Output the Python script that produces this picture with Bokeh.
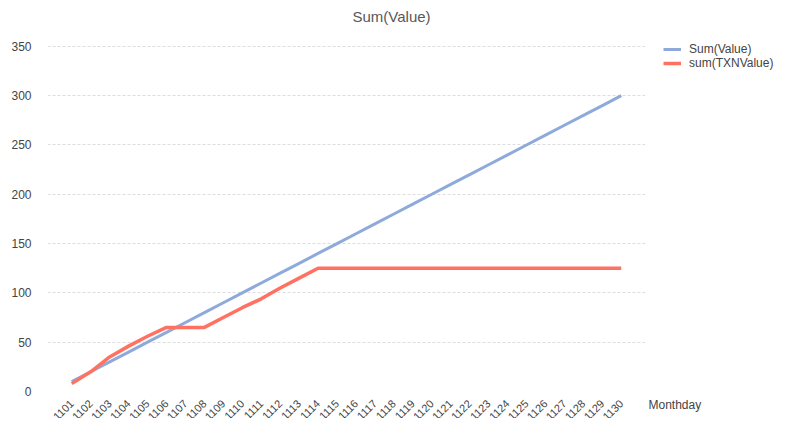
import math
from bokeh.plotting import figure
from bokeh.models import FactorRange, Range1d, Legend, LegendItem, Title, ColumnDataSource
from bokeh.embed import file_html
from bokeh.resources import INLINE

days = [str(d) for d in range(1101, 1131)]
sum_value = [10, 20, 30, 40, 50, 60, 70, 80, 90, 100,
             110, 120, 130, 140, 150, 160, 170, 180, 190, 200,
             210, 220, 230, 240, 250, 260, 270, 280, 290, 300]
sum_txn = [8, 20, 35, 46, 56, 65, 65, 65, 75, 85,
           94, 105, 115, 125, 125, 125, 125, 125, 125, 125,
           125, 125, 125, 125, 125, 125, 125, 125, 125, 125]
y_ticks = [0, 50, 100, 150, 200, 250, 300, 350]

FONT = "Liberation Sans"
src = ColumnDataSource(dict(day=days, v=sum_value, t=sum_txn))

p = figure(x_range=FactorRange(*days, range_padding=0.78, range_padding_units="absolute"),
           y_range=Range1d(0, 358),
           frame_width=598, frame_height=353,
           output_backend="svg", toolbar_location=None,
           min_border_left=0, min_border_right=0, min_border_top=0, min_border_bottom=0,
           title="Sum(Value)")
p.margin = (-4, 0, 0, 8)
p.outline_line_color = None
p.background_fill_color = "white"
p.border_fill_color = "white"

p.title.align = "left"
p.title.offset = 305
p.title.text_font = FONT
p.title.text_font_size = "15px"
p.title.text_font_style = "normal"
p.title.text_color = "#595959"
p.title.standoff = 23
p.title.vertical_align = "top"

c_blue = "#8eaadb"
c_red = "#ff7262"
r1 = p.line("day", "v", source=src, line_color=c_blue, line_width=3)
r2 = p.line("day", "t", source=src, line_color=c_red, line_width=3.5)

p.xgrid.grid_line_color = None
p.ygrid.grid_line_color = "#dddddd"
p.ygrid.grid_line_dash = "3 2"
p.ygrid.grid_line_width = 1

p.yaxis.ticker = y_ticks
p.yaxis.axis_line_color = None
p.yaxis.major_tick_line_color = None
p.yaxis.minor_tick_line_color = None
p.yaxis.major_label_text_font = FONT
p.yaxis.major_label_text_font_size = "12px"
p.yaxis.major_label_text_color = "#444444"
p.yaxis.major_label_standoff = 10

p.xaxis.axis_line_color = None
p.xaxis.major_tick_line_color = None
p.xaxis.minor_tick_line_color = None
p.xaxis.major_label_orientation = math.pi / 4
p.xaxis.major_label_text_font = FONT
p.xaxis.major_label_text_font_size = "11px"
p.xaxis.major_label_text_color = "#444444"
p.xaxis.major_label_standoff = 4
# blank axis label with negative standoff: pulls the axis-name row up beside the tick labels
p.xaxis.axis_label = " "
p.xaxis.axis_label_text_font = FONT
p.xaxis.axis_label_text_font_size = "12px"
p.xaxis.axis_label_standoff = -51

legend = Legend(items=[LegendItem(label="Sum(Value)", renderers=[r1]),
                       LegendItem(label="sum(TXNValue)", renderers=[r2])],
                location=(18, 321), orientation="vertical")
legend.border_line_color = None
legend.background_fill_alpha = 0
legend.margin = 9
legend.padding = 0
legend.glyph_width = 18
legend.glyph_height = 12
legend.label_height = 12
legend.spacing = 0
legend.label_standoff = 8
legend.label_text_font = FONT
legend.label_text_font_size = "12px"
legend.label_text_color = "#444444"
p.add_layout(legend, "right")

x_title = Title(text="Monthday", align="left", offset=601, standoff=10, vertical_align="top",
                text_font=FONT, text_font_size="12px", text_font_style="normal",
                text_color="#444444")
p.add_layout(x_title, "below")

open("out.html", "w").write(file_html(p, INLINE))
